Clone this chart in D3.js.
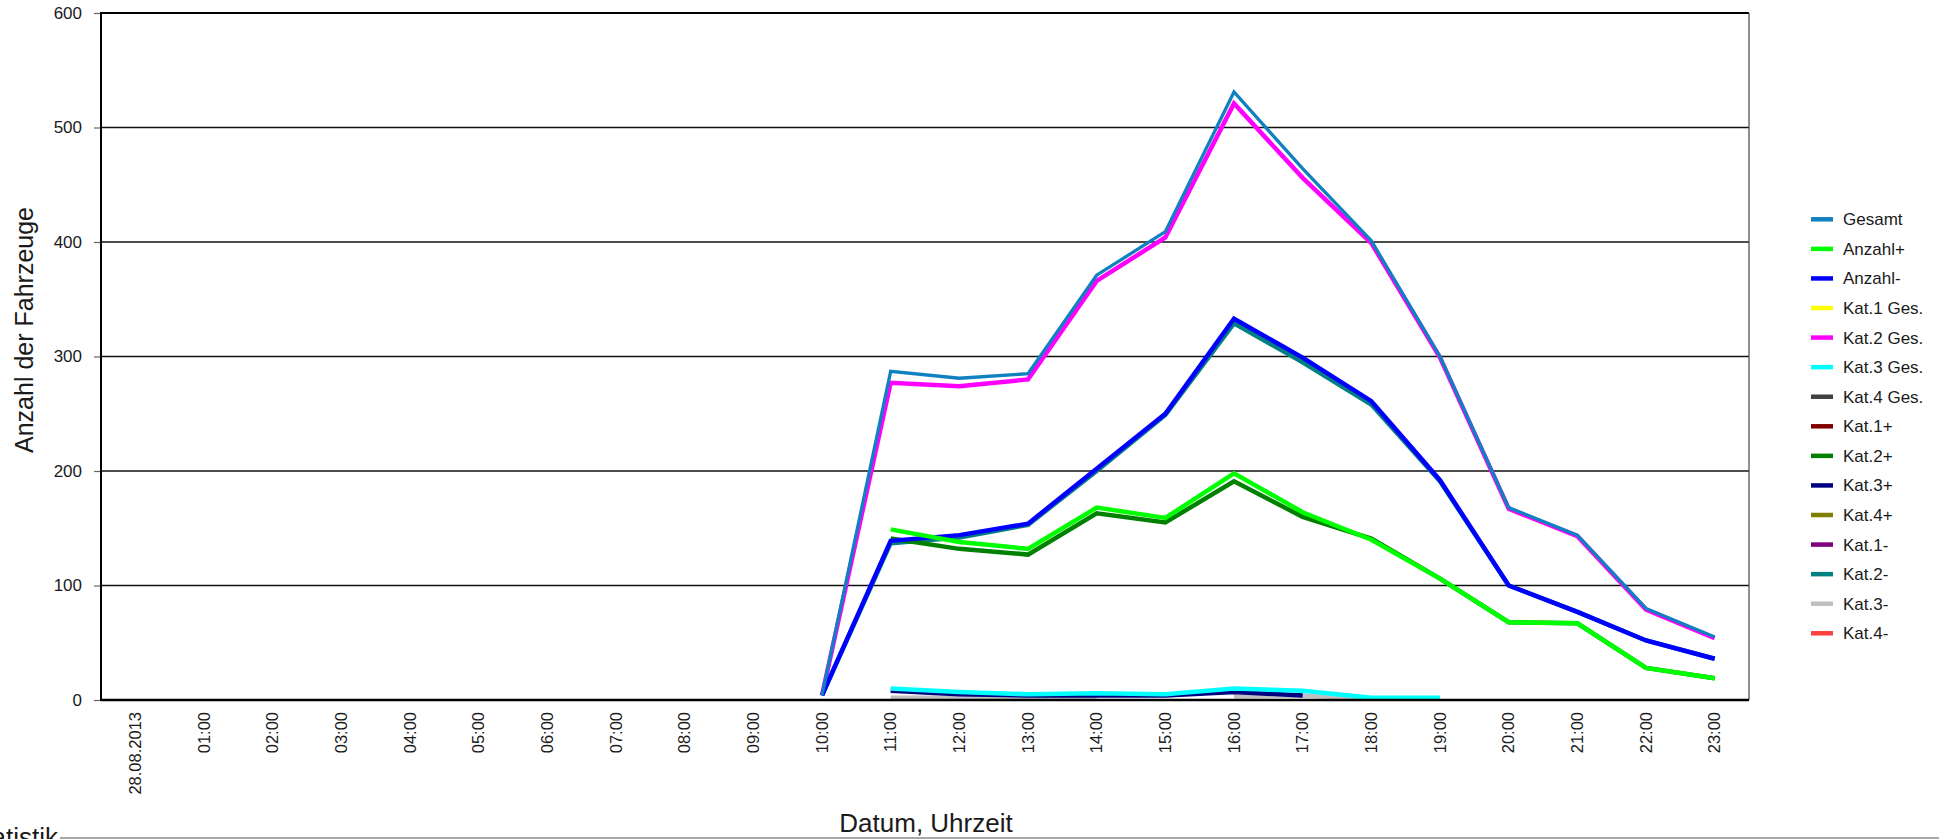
<!DOCTYPE html>
<html>
<head>
<meta charset="utf-8">
<script src="https://cdn.jsdelivr.net/npm/d3@7"></script>
<style>
  html, body { margin: 0; padding: 0; background: #fff; }
  svg { display: block; font-family: "Liberation Sans", Arial, Helvetica, sans-serif; }
</style>
</head>
<body>
<svg id="chart" width="1939" height="839"></svg>
<script>
// ---------- data ----------
const categories = ["28.08.2013","01:00","02:00","03:00","04:00","05:00","06:00","07:00","08:00","09:00",
  "10:00","11:00","12:00","13:00","14:00","15:00","16:00","17:00","18:00","19:00","20:00","21:00","22:00","23:00"];
const yTicks = [0, 100, 200, 300, 400, 500, 600];
const N = null;
const gesamt   = [N,N,N,N,N,N,N,N,N,N, 4, 287, 281, 285, 371, 409, 531, 464, 401, 300, 168, 144, 80, 55];
const anzahlP  = [N,N,N,N,N,N,N,N,N,N, N, 149, 138, 132, 168, 159, 198, 164, 140, 106, 68, 67, 28, 19];
const anzahlM  = [N,N,N,N,N,N,N,N,N,N, 4, 139, 144, 154, 202, 250, 333, 299, 261, 192, 100, 77, 52, 36];
const kat1Ges  = [N,N,N,N,N,N,N,N,N,N, N, N, N, N, N, N, N, N, N, N, N, N, N, N];
const kat2Ges  = [N,N,N,N,N,N,N,N,N,N, 4, 277, 274, 280, 366, 404, 521, 456, 399, 299, 167, 143, 79, 54];
const kat3Ges  = [N,N,N,N,N,N,N,N,N,N, N, 10, 7, 5, 6, 5, 10, 8, 2, 2, N, N, N, N];
const kat4Ges  = [N,N,N,N,N,N,N,N,N,N, N, N, N, N, N, N, N, N, N, N, N, N, N, N];
const kat1P    = [N,N,N,N,N,N,N,N,N,N, N, N, N, N, N, N, N, N, N, N, N, N, N, N];
const kat2P    = [N,N,N,N,N,N,N,N,N,N, N, 141, 132, 127, 163, 155, 191, 160, 141, 106, 68, 67, 28, 19];
const kat3P    = [N,N,N,N,N,N,N,N,N,N, N, 8, 5, 4, 4, 4, 7, 4, N, N, N, N, N, N];
const kat4P    = [N,N,N,N,N,N,N,N,N,N, N, N, N, N, N, N, N, N, N, N, N, N, N, N];
const kat1M    = [N,N,N,N,N,N,N,N,N,N, N, N, N, N, N, N, N, N, N, N, N, N, N, N];
const kat2M    = [N,N,N,N,N,N,N,N,N,N, 4, 137, 142, 153, 200, 249, 329, 295, 258, 191, 100, 77, 52, 36];
const kat3M    = [N,N,N,N,N,N,N,N,N,N, N, 2, 2, 2, 2, N, 3, 4, 1, N, N, N, N, N];
const kat4M    = [N,N,N,N,N,N,N,N,N,N, N, N, N, N, N, N, N, N, N, N, N, N, N, N];

const seriesNames  = ["Gesamt","Anzahl+","Anzahl-","Kat.1 Ges.","Kat.2 Ges.","Kat.3 Ges.","Kat.4 Ges.",
  "Kat.1+","Kat.2+","Kat.3+","Kat.4+","Kat.1-","Kat.2-","Kat.3-","Kat.4-"];
const seriesValues = [gesamt, anzahlP, anzahlM, kat1Ges, kat2Ges, kat3Ges, kat4Ges,
  kat1P, kat2P, kat3P, kat4P, kat1M, kat2M, kat3M, kat4M];
const seriesColors = ["#0f80c0","#00ff00","#0000ff","#ffff00","#ff00ff","#00ffff","#404040",
  "#800000","#008000","#000080","#808000","#800080","#008080","#c0c0c0","#ff4040"];

// ---------- layout ----------
const svg = d3.select("#chart");
const L = 101, R = 1749, T = 13, B = 700;

const x = d3.scaleBand().domain(categories).range([L, R]).padding(0);
const y = d3.scaleLinear().domain([0, 600]).range([B, T]);
const cx = c => x(c) + x.bandwidth() / 2;

// gridlines
svg.append("g").selectAll("line")
  .data(yTicks.filter(t => t > 0 && t < 600))
  .join("line")
  .attr("x1", L).attr("x2", R)
  .attr("y1", d => y(d)).attr("y2", d => y(d))
  .attr("stroke", "#111").attr("stroke-width", 1.3);

// frame
svg.append("line").attr("x1", L).attr("x2", R).attr("y1", y(600)).attr("y2", y(600))
  .attr("stroke", "#000").attr("stroke-width", 2);
svg.append("line").attr("x1", R).attr("x2", R).attr("y1", T).attr("y2", B)
  .attr("stroke", "#444").attr("stroke-width", 1.2);

// y axis
const yAxis = svg.append("g").attr("transform", `translate(${L},0)`)
  .call(d3.axisLeft(y).tickValues(yTicks).tickSize(7).tickPadding(12).tickFormat(d3.format("d")));
yAxis.select(".domain").remove();
yAxis.selectAll(".tick line").attr("stroke", "#666").attr("stroke-width", 1.2);
yAxis.selectAll(".tick text").attr("font-size", 17).attr("fill", "#1a1a1a")
  .attr("font-family", "'Liberation Sans', Arial, sans-serif");

// x axis
const xAxis = svg.append("g").attr("transform", `translate(0,${B})`)
  .call(d3.axisBottom(x).tickSize(0));
xAxis.select(".domain").remove();
xAxis.selectAll(".tick text")
  .attr("font-size", 16.5).attr("fill", "#1a1a1a")
  .attr("font-family", "'Liberation Sans', Arial, sans-serif")
  .attr("transform", "rotate(-90)")
  .attr("text-anchor", "end")
  .attr("x", -12).attr("y", 0).attr("dy", "0.35em");

// series lines (drawn in reverse so Gesamt is on top)
const line = d3.line()
  .defined(d => d.v !== null)
  .x(d => cx(d.c))
  .y(d => y(d.v));

const seriesData = seriesNames.map((name, i) => ({
  name, color: seriesColors[i],
  width: i === 0 ? 3.3 : 4.5,
  pts: categories.map((c, j) => ({ c, v: seriesValues[i][j] }))
}));

svg.append("g").selectAll("path")
  .data(seriesData.slice().reverse())
  .join("path")
  .attr("d", d => line(d.pts))
  .attr("fill", "none")
  .attr("stroke", d => d.color)
  .attr("stroke-width", d => d.width)
  .attr("stroke-linejoin", "miter");

// axis lines on top
svg.append("line").attr("x1", L).attr("x2", L).attr("y1", T - 1).attr("y2", B + 1)
  .attr("stroke", "#000").attr("stroke-width", 2);
svg.append("line").attr("x1", L).attr("x2", R).attr("y1", B).attr("y2", B)
  .attr("stroke", "#000").attr("stroke-width", 2.6);

// axis titles
svg.append("text")
  .attr("transform", `translate(33,330) rotate(-90)`)
  .attr("text-anchor", "middle")
  .attr("font-size", 25).attr("fill", "#1a1a1a")
  .text("Anzahl der Fahrzeuge");
svg.append("text")
  .attr("x", 926).attr("y", 832)
  .attr("text-anchor", "middle")
  .attr("font-size", 26).attr("fill", "#1a1a1a")
  .text("Datum, Uhrzeit");

// legend
const lg = svg.append("g");
const legItems = lg.selectAll("g").data(seriesData).join("g")
  .attr("transform", (d, i) => `translate(1811,${219.3 + i * 29.57})`);
legItems.append("line").attr("x1", 0).attr("x2", 22).attr("y1", 0).attr("y2", 0)
  .attr("stroke", d => d.color).attr("stroke-width", 4.5);
legItems.append("text").attr("x", 32).attr("y", 0).attr("dy", "0.35em")
  .attr("font-size", 17).attr("fill", "#1a1a1a")
  .text(d => d.name);

// bottom fieldset-like caption
svg.append("text").attr("x", -33).attr("y", 846)
  .attr("font-size", 26).attr("fill", "#1a1a1a").text("Statistik");
svg.append("line").attr("x1", 60).attr("x2", 1939).attr("y1", 838).attr("y2", 838)
  .attr("stroke", "#8a8a8a").attr("stroke-width", 1.6);
</script>
</body>
</html>
